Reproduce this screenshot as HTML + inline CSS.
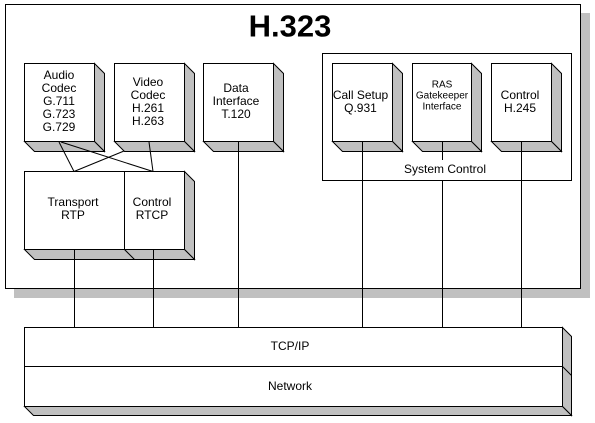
<!DOCTYPE html>
<html><head><meta charset="utf-8"><style>
html,body{margin:0;padding:0;background:#fff;}
svg{display:block;}
text{font-family:"Liberation Sans",Arial,sans-serif;font-size:12px;fill:#000;text-anchor:middle;dominant-baseline:central;}
</style></head><body>
<svg width="595" height="423" viewBox="0 0 595 423" xmlns="http://www.w3.org/2000/svg">
<g stroke="#000" stroke-width="1" shape-rendering="crispEdges">
<!-- frame shadow -->
<rect x="14" y="13" width="576" height="285" fill="#c0c0c0" stroke="none"/>
<rect x="5.5" y="4.5" width="575" height="284" fill="#fff"/>
</g>
<text x="290" y="26" style="font-size:31px;font-weight:bold">H.323</text>

<g stroke="#000" stroke-width="1" fill="#c0c0c0">
<!-- 3D box helper drawn manually: right face and bottom face -->
<!-- Audio -->
<polygon points="94.5,63.5 104.5,73.5 104.5,151.5 94.5,141.5"/>
<polygon points="24.5,141.5 94.5,141.5 104.5,151.5 34.5,151.5"/>
<rect x="24.5" y="63.5" width="70" height="78" fill="#fff"/>
<!-- Video -->
<polygon points="184.5,63.5 194.5,73.5 194.5,151.5 184.5,141.5"/>
<polygon points="114.5,141.5 184.5,141.5 194.5,151.5 124.5,151.5"/>
<rect x="114.5" y="63.5" width="70" height="78" fill="#fff"/>
<!-- Data -->
<polygon points="273.5,63.5 283.5,73.5 283.5,151.5 273.5,141.5"/>
<polygon points="203.5,141.5 273.5,141.5 283.5,151.5 213.5,151.5"/>
<rect x="203.5" y="63.5" width="70" height="78" fill="#fff"/>
<!-- Transport/RTCP -->
<polygon points="184.5,171.5 194.5,181.5 194.5,259.5 184.5,249.5"/>
<polygon points="24.5,249.5 184.5,249.5 194.5,259.5 34.5,259.5"/>
<line x1="124.5" y1="249.5" x2="134.5" y2="259.5"/>
<rect x="24.5" y="171.5" width="160" height="78" fill="#fff"/>
<line x1="124.5" y1="171.5" x2="124.5" y2="249.5"/>
</g>

<g stroke="#000" stroke-width="1" fill="none">
<!-- crossing lines -->
<line x1="59" y1="142" x2="74" y2="171.5"/>
<line x1="61" y1="142" x2="153" y2="171.5"/>
<line x1="149" y1="142" x2="153" y2="171.5"/>
<line x1="124" y1="151" x2="74" y2="171.5"/>
<!-- system control -->
<rect x="322.5" y="53.5" width="249" height="127" fill="#fff"/>
</g>

<g stroke="#000" stroke-width="1" fill="#c0c0c0">
<polygon points="392.5,63.5 402.5,73.5 402.5,151.5 392.5,141.5"/>
<polygon points="332.5,141.5 392.5,141.5 402.5,151.5 342.5,151.5"/>
<rect x="332.5" y="63.5" width="60" height="78" fill="#fff"/>
<polygon points="471.5,63.5 481.5,73.5 481.5,151.5 471.5,141.5"/>
<polygon points="412.5,141.5 471.5,141.5 481.5,151.5 422.5,151.5"/>
<rect x="412.5" y="63.5" width="59" height="78" fill="#fff"/>
<polygon points="551.5,63.5 561.5,73.5 561.5,151.5 551.5,141.5"/>
<polygon points="491.5,141.5 551.5,141.5 561.5,151.5 501.5,151.5"/>
<rect x="491.5" y="63.5" width="60" height="78" fill="#fff"/>
<!-- bottom box -->
<polygon points="562.5,327.5 571.5,336.5 571.5,415.5 562.5,406.5"/>
<polygon points="24.5,406.5 562.5,406.5 571.5,415.5 33.5,415.5"/>
<line x1="562.5" y1="366.5" x2="571.5" y2="375.5"/>
<rect x="24.5" y="327.5" width="538" height="79" fill="#fff"/>
<line x1="24.5" y1="366.5" x2="562.5" y2="366.5"/>
</g>

<g stroke="#000" stroke-width="1" shape-rendering="crispEdges">
<line x1="74.5" y1="250" x2="74.5" y2="327"/>
<line x1="153.5" y1="250" x2="153.5" y2="327"/>
<line x1="238.5" y1="142" x2="238.5" y2="327"/>
<line x1="362.5" y1="142" x2="362.5" y2="327"/>
<line x1="442.5" y1="142" x2="442.5" y2="160"/>
<line x1="442.5" y1="180" x2="442.5" y2="327"/>
<line x1="521.5" y1="142" x2="521.5" y2="327"/>
</g>

<text x="59" y="75">Audio</text>
<text x="59" y="88">Codec</text>
<text x="59" y="101">G.711</text>
<text x="59" y="114">G.723</text>
<text x="59" y="127">G.729</text>
<text x="148" y="82">Video</text>
<text x="148" y="95">Codec</text>
<text x="148" y="108">H.261</text>
<text x="148" y="121">H.263</text>
<text x="236" y="88">Data</text>
<text x="236" y="101">Interface</text>
<text x="236" y="114">T.120</text>
<text x="73" y="202">Transport</text>
<text x="73" y="215">RTP</text>
<text x="152" y="202">Control</text>
<text x="152" y="215">RTCP</text>
<text x="360.5" y="95">Call Setup</text>
<text x="360.5" y="108">Q.931</text>
<text x="442" y="85" style="font-size:10px">RAS</text>
<text x="442" y="96" style="font-size:10px">Gatekeeper</text>
<text x="442" y="107" style="font-size:10px">Interface</text>
<text x="520" y="95">Control</text>
<text x="520" y="108">H.245</text>
<text x="445" y="169">System Control</text>
<text x="290" y="346">TCP/IP</text>
<text x="290" y="386">Network</text>
</svg>
</body></html>
